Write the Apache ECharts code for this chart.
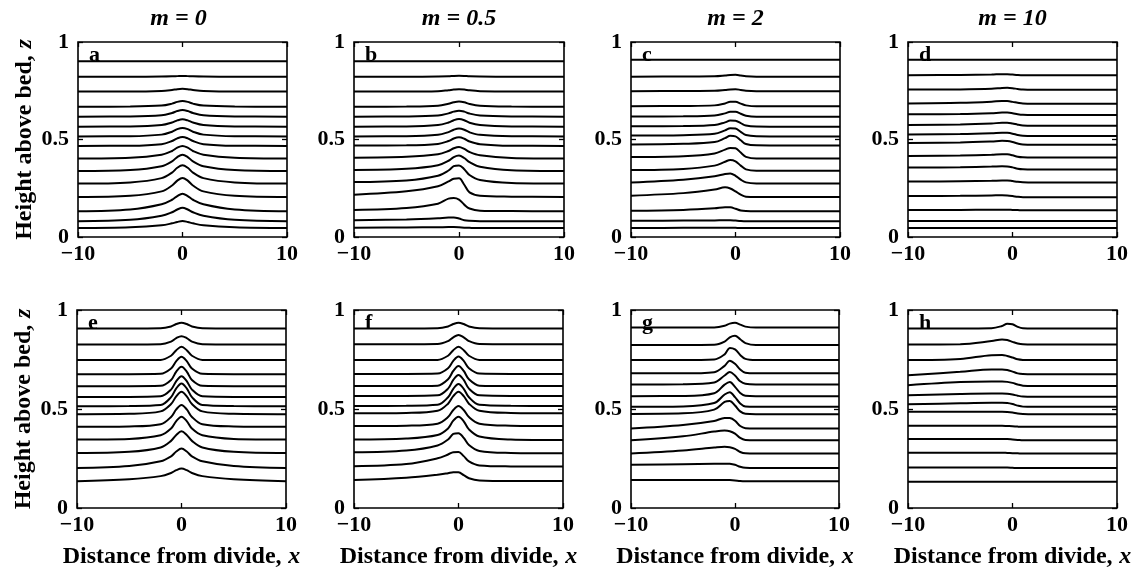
<!DOCTYPE html>
<html>
<head>
<meta charset="utf-8">
<script src="https://cdn.jsdelivr.net/npm/echarts@6/dist/echarts.min.js"></script>
<style>html,body{margin:0;padding:0;background:#fff}#c{width:1136px;height:573px}</style>
</head>
<body>
<div id="c"></div>
<script>
// ---- data ----
const X = [-10, -5, -2, -1, -0.5, 0, 0.5, 1, 2, 5, 10];
const xTickValues = [-10, 0, 10];
const yTickValues = [0, 0.5, 1];
const mLabels = ['m = 0', 'm = 0.5', 'm = 2', 'm = 10'];
const panelLetters = ['a', 'b', 'c', 'd', 'e', 'f', 'g', 'h'];

// top row: isochrone heights z at X, m = 0
const zA = [
 [0.901,0.901,0.901,0.901,0.901,0.901,0.901,0.901,0.901,0.901,0.901],
 [0.822,0.822,0.823,0.824,0.825,0.826,0.825,0.824,0.823,0.822,0.822],
 [0.746,0.746,0.749,0.754,0.758,0.760,0.758,0.754,0.749,0.746,0.746],
 [0.668,0.669,0.674,0.684,0.693,0.697,0.693,0.684,0.674,0.669,0.668],
 [0.617,0.618,0.624,0.636,0.646,0.651,0.646,0.636,0.624,0.618,0.617],
 [0.566,0.567,0.574,0.587,0.598,0.604,0.598,0.587,0.574,0.567,0.566],
 [0.516,0.517,0.525,0.540,0.553,0.559,0.553,0.540,0.525,0.517,0.516],
 [0.467,0.468,0.476,0.492,0.506,0.513,0.506,0.492,0.476,0.468,0.467],
 [0.402,0.406,0.422,0.441,0.458,0.467,0.458,0.441,0.422,0.406,0.402],
 [0.338,0.343,0.363,0.388,0.410,0.422,0.410,0.388,0.363,0.343,0.338],
 [0.274,0.280,0.302,0.330,0.355,0.368,0.355,0.330,0.302,0.280,0.274],
 [0.205,0.211,0.234,0.264,0.289,0.303,0.289,0.264,0.234,0.211,0.205],
 [0.132,0.141,0.168,0.191,0.210,0.222,0.210,0.191,0.168,0.141,0.132],
 [0.081,0.088,0.109,0.127,0.141,0.150,0.141,0.127,0.109,0.088,0.081],
 [0.046,0.050,0.060,0.070,0.077,0.082,0.077,0.070,0.060,0.050,0.046]
];
// m = 0.5
const zB = [
 [0.901,0.901,0.901,0.901,0.901,0.901,0.901,0.901,0.901,0.901,0.901],
 [0.822,0.822,0.823,0.824,0.826,0.827,0.826,0.824,0.823,0.822,0.822],
 [0.746,0.746,0.748,0.753,0.756,0.758,0.756,0.752,0.748,0.746,0.746],
 [0.668,0.669,0.673,0.683,0.691,0.695,0.691,0.682,0.673,0.669,0.668],
 [0.617,0.618,0.623,0.634,0.643,0.648,0.643,0.633,0.623,0.618,0.617],
 [0.566,0.567,0.574,0.587,0.599,0.605,0.599,0.586,0.574,0.567,0.566],
 [0.516,0.517,0.524,0.538,0.550,0.556,0.550,0.537,0.524,0.517,0.516],
 [0.469,0.470,0.477,0.492,0.505,0.511,0.504,0.490,0.476,0.468,0.467],
 [0.407,0.411,0.424,0.441,0.455,0.462,0.452,0.436,0.419,0.405,0.402],
 [0.344,0.350,0.368,0.391,0.410,0.418,0.405,0.384,0.360,0.342,0.338],
 [0.282,0.290,0.314,0.341,0.363,0.367,0.348,0.318,0.292,0.277,0.274],
 [0.217,0.234,0.260,0.285,0.299,0.301,0.268,0.229,0.212,0.207,0.205],
 [0.139,0.149,0.171,0.197,0.200,0.192,0.166,0.146,0.135,0.133,0.132],
 [0.086,0.090,0.096,0.100,0.100,0.095,0.086,0.083,0.081,0.081,0.081],
 [0.048,0.049,0.050,0.051,0.051,0.050,0.048,0.047,0.046,0.046,0.046]
];
// m = 2
const zC = [
 [0.909,0.909,0.909,0.909,0.909,0.909,0.909,0.909,0.909,0.909,0.909],
 [0.822,0.823,0.824,0.828,0.831,0.832,0.828,0.824,0.822,0.822,0.822],
 [0.748,0.749,0.750,0.754,0.757,0.758,0.754,0.750,0.748,0.748,0.748],
 [0.671,0.672,0.675,0.685,0.693,0.693,0.684,0.675,0.670,0.670,0.670],
 [0.618,0.619,0.623,0.634,0.642,0.642,0.632,0.622,0.617,0.617,0.617],
 [0.568,0.569,0.574,0.588,0.597,0.596,0.584,0.572,0.567,0.566,0.566],
 [0.520,0.522,0.529,0.547,0.558,0.556,0.539,0.523,0.517,0.516,0.516],
 [0.475,0.478,0.487,0.507,0.519,0.516,0.496,0.477,0.470,0.469,0.469],
 [0.410,0.414,0.428,0.448,0.457,0.455,0.433,0.411,0.402,0.402,0.402],
 [0.343,0.349,0.366,0.386,0.395,0.388,0.366,0.347,0.340,0.340,0.340],
 [0.280,0.294,0.311,0.323,0.326,0.314,0.294,0.280,0.275,0.275,0.275],
 [0.212,0.225,0.243,0.255,0.249,0.234,0.217,0.207,0.205,0.205,0.205],
 [0.135,0.139,0.147,0.153,0.152,0.145,0.136,0.133,0.132,0.132,0.132],
 [0.083,0.084,0.085,0.086,0.086,0.084,0.082,0.081,0.081,0.081,0.081],
 [0.046,0.047,0.047,0.048,0.048,0.047,0.046,0.046,0.046,0.046,0.046]
];
// m = 10
const zD = [
 [0.909,0.909,0.909,0.909,0.909,0.909,0.909,0.909,0.909,0.909,0.909],
 [0.830,0.831,0.833,0.835,0.835,0.833,0.831,0.830,0.830,0.830,0.830],
 [0.756,0.757,0.760,0.764,0.765,0.763,0.759,0.756,0.755,0.755,0.755],
 [0.685,0.688,0.694,0.698,0.697,0.693,0.688,0.684,0.683,0.683,0.683],
 [0.629,0.631,0.635,0.638,0.638,0.635,0.630,0.627,0.626,0.626,0.626],
 [0.574,0.577,0.582,0.586,0.586,0.582,0.576,0.572,0.571,0.571,0.571],
 [0.526,0.528,0.532,0.535,0.534,0.530,0.523,0.519,0.518,0.518,0.518],
 [0.482,0.485,0.490,0.493,0.492,0.487,0.479,0.474,0.473,0.473,0.473],
 [0.415,0.418,0.422,0.425,0.424,0.419,0.412,0.409,0.408,0.408,0.408],
 [0.356,0.358,0.361,0.363,0.362,0.357,0.350,0.347,0.346,0.346,0.346],
 [0.284,0.286,0.288,0.290,0.290,0.287,0.283,0.281,0.280,0.280,0.280],
 [0.210,0.211,0.213,0.214,0.213,0.210,0.206,0.204,0.204,0.204,0.204],
 [0.139,0.139,0.140,0.140,0.140,0.139,0.138,0.137,0.137,0.137,0.137],
 [0.082,0.082,0.082,0.082,0.082,0.082,0.082,0.082,0.082,0.082,0.082],
 [0.046,0.046,0.046,0.046,0.046,0.046,0.046,0.046,0.046,0.046,0.046]
];
// bottom row, m = 0
const zE = [
 [0.907,0.907,0.908,0.917,0.929,0.936,0.929,0.917,0.908,0.907,0.907],
 [0.826,0.826,0.827,0.840,0.858,0.868,0.858,0.840,0.827,0.826,0.826],
 [0.747,0.747,0.748,0.769,0.797,0.814,0.797,0.769,0.748,0.747,0.747],
 [0.676,0.676,0.678,0.705,0.742,0.764,0.742,0.705,0.678,0.676,0.676],
 [0.615,0.615,0.617,0.647,0.689,0.713,0.689,0.647,0.617,0.615,0.615],
 [0.561,0.561,0.564,0.598,0.641,0.666,0.641,0.598,0.564,0.561,0.561],
 [0.514,0.515,0.520,0.560,0.604,0.629,0.604,0.560,0.520,0.515,0.514],
 [0.474,0.476,0.488,0.525,0.564,0.587,0.564,0.525,0.488,0.476,0.474],
 [0.410,0.412,0.423,0.460,0.498,0.520,0.498,0.460,0.423,0.412,0.410],
 [0.346,0.349,0.367,0.401,0.439,0.461,0.439,0.401,0.367,0.349,0.346],
 [0.278,0.284,0.306,0.339,0.369,0.388,0.369,0.339,0.306,0.284,0.278],
 [0.202,0.212,0.236,0.261,0.285,0.300,0.285,0.261,0.236,0.212,0.202],
 [0.135,0.145,0.161,0.177,0.191,0.199,0.191,0.177,0.161,0.145,0.135]
];
// m = 0.5
const zF = [
 [0.907,0.907,0.908,0.917,0.929,0.936,0.929,0.917,0.908,0.907,0.907],
 [0.827,0.827,0.828,0.843,0.862,0.874,0.862,0.843,0.828,0.827,0.827],
 [0.747,0.747,0.748,0.769,0.797,0.814,0.797,0.769,0.748,0.747,0.747],
 [0.677,0.677,0.679,0.706,0.743,0.765,0.743,0.706,0.679,0.677,0.677],
 [0.616,0.616,0.618,0.650,0.692,0.717,0.692,0.650,0.618,0.616,0.616],
 [0.566,0.566,0.569,0.603,0.647,0.672,0.647,0.603,0.569,0.566,0.566],
 [0.515,0.516,0.521,0.559,0.602,0.626,0.602,0.559,0.521,0.516,0.515],
 [0.478,0.480,0.491,0.527,0.565,0.587,0.565,0.527,0.491,0.480,0.478],
 [0.414,0.416,0.426,0.459,0.495,0.515,0.495,0.459,0.426,0.416,0.414],
 [0.346,0.351,0.369,0.402,0.441,0.461,0.438,0.397,0.361,0.346,0.343],
 [0.281,0.290,0.316,0.346,0.374,0.378,0.354,0.318,0.288,0.278,0.276],
 [0.211,0.222,0.251,0.270,0.282,0.283,0.262,0.235,0.215,0.210,0.209],
 [0.141,0.153,0.168,0.176,0.181,0.180,0.166,0.150,0.139,0.136,0.136]
];
// m = 2
const zG = [
 [0.911,0.911,0.912,0.920,0.931,0.935,0.926,0.916,0.911,0.911,0.911],
 [0.823,0.823,0.824,0.840,0.862,0.870,0.852,0.833,0.823,0.823,0.823],
 [0.747,0.747,0.750,0.776,0.808,0.801,0.773,0.753,0.747,0.747,0.747],
 [0.680,0.680,0.686,0.718,0.744,0.728,0.699,0.683,0.680,0.680,0.680],
 [0.624,0.625,0.634,0.669,0.687,0.669,0.640,0.627,0.624,0.624,0.624],
 [0.565,0.566,0.580,0.623,0.636,0.612,0.581,0.567,0.565,0.565,0.565],
 [0.511,0.513,0.530,0.573,0.585,0.560,0.528,0.513,0.511,0.511,0.511],
 [0.475,0.478,0.497,0.536,0.541,0.518,0.488,0.476,0.474,0.474,0.474],
 [0.401,0.419,0.439,0.455,0.454,0.441,0.414,0.403,0.401,0.401,0.401],
 [0.342,0.362,0.386,0.391,0.388,0.376,0.354,0.344,0.342,0.342,0.342],
 [0.275,0.290,0.305,0.309,0.307,0.299,0.283,0.276,0.275,0.275,0.275],
 [0.219,0.221,0.223,0.224,0.223,0.218,0.208,0.203,0.202,0.202,0.202],
 [0.141,0.141,0.142,0.142,0.141,0.139,0.136,0.135,0.135,0.135,0.135]
];
// m = 10
const zH = [
 [0.907,0.907,0.908,0.919,0.931,0.928,0.915,0.908,0.907,0.907,0.907],
 [0.826,0.827,0.843,0.851,0.848,0.839,0.831,0.827,0.826,0.826,0.826],
 [0.747,0.753,0.772,0.773,0.768,0.760,0.751,0.748,0.747,0.747,0.747],
 [0.670,0.688,0.700,0.700,0.697,0.689,0.680,0.677,0.676,0.676,0.676],
 [0.620,0.636,0.639,0.639,0.637,0.632,0.624,0.618,0.616,0.616,0.616],
 [0.570,0.576,0.578,0.578,0.577,0.573,0.567,0.563,0.562,0.562,0.562],
 [0.524,0.529,0.531,0.531,0.530,0.525,0.517,0.512,0.511,0.511,0.511],
 [0.486,0.486,0.486,0.486,0.485,0.482,0.477,0.475,0.474,0.474,0.474],
 [0.415,0.415,0.415,0.415,0.414,0.413,0.411,0.410,0.410,0.410,0.410],
 [0.349,0.349,0.349,0.349,0.348,0.346,0.344,0.342,0.342,0.342,0.342],
 [0.279,0.279,0.279,0.279,0.278,0.277,0.276,0.275,0.275,0.275,0.275],
 [0.204,0.204,0.204,0.204,0.204,0.203,0.202,0.202,0.202,0.202,0.202],
 [0.132,0.132,0.132,0.132,0.132,0.132,0.132,0.132,0.132,0.132,0.132]
];

// ---- layout ----
const FONT = '"Liberation Serif", "DejaVu Serif", serif';
const FS = 22, NFS = 24;
const panelData = [zA, zB, zC, zD, zE, zF, zG, zH];
const boxes = [
  {left: 78, top: 42, width: 209, height: 195},
  {left: 354, top: 42, width: 210, height: 195},
  {left: 631, top: 42, width: 209, height: 195},
  {left: 908, top: 42, width: 209, height: 195},
  {left: 77, top: 310, width: 209, height: 198},
  {left: 354, top: 310, width: 209, height: 198},
  {left: 631, top: 310, width: 208, height: 198},
  {left: 908, top: 310, width: 209, height: 198}
];

const grid = [], xAxis = [], yAxis = [], series = [], title = [];
const tickStyle = {inside: true, length: 5, lineStyle: {color: '#000', width: 1.3}};
const labelStyle = {color: '#000', fontFamily: FONT, fontWeight: 'bold', fontSize: FS};
const fmtX = v => (v < 0 ? '\u2212' + Math.abs(v) : String(v));
const nameRich = {
  n: {fontFamily: FONT, fontWeight: 'bold', fontSize: NFS, color: '#000'},
  i: {fontFamily: FONT, fontWeight: 'bold', fontStyle: 'italic', fontSize: NFS, color: '#000'}
};

boxes.forEach((b, p) => {
  grid.push(Object.assign({show: true, borderColor: '#000', borderWidth: 1.6, backgroundColor: 'transparent', containLabel: false}, b));
  const bottomRow = p >= 4, leftCol = p % 4 === 0;
  xAxis.push({
    type: 'value', gridIndex: p, min: -10, max: 10, interval: 10, position: 'bottom',
    axisLine: {show: false, onZero: false}, axisTick: tickStyle, splitLine: {show: false},
    axisLabel: Object.assign({margin: 6, formatter: fmtX}, labelStyle),
    name: bottomRow ? '{n|Distance from divide,}  {i|x}' : '',
    nameLocation: 'middle', nameGap: 37,
    nameTextStyle: {rich: nameRich}
  });
  yAxis.push({
    type: 'value', gridIndex: p, min: 0, max: 1, interval: 0.5, position: 'left',
    axisLine: {show: false, onZero: false}, axisTick: tickStyle, splitLine: {show: false},
    axisLabel: Object.assign({margin: 9, formatter: v => String(v)}, labelStyle),
    name: leftCol ? '{n|Height above bed,}  {i|z}' : '',
    nameLocation: 'middle', nameGap: 41, nameRotate: 90,
    nameTextStyle: {rich: nameRich}
  });
  panelData[p].forEach((line) => {
    series.push({
      type: 'line', xAxisIndex: p, yAxisIndex: p,
      data: X.map((x, i) => [x, line[i]]),
      smooth: 0.35, showSymbol: false, symbol: 'none', silent: true,
      lineStyle: {color: '#000', width: 2}
    });
  });
  title.push({
    text: panelLetters[p], left: b.left + 11, top: b.top + 2, padding: 0,
    textStyle: {fontFamily: FONT, fontWeight: 'bold', fontSize: 22, color: '#000'}
  });
});
// top / right axes for the inner ticks on the other sides
boxes.forEach((b, p) => {
  xAxis.push({type: 'value', gridIndex: p, min: -10, max: 10, interval: 10, position: 'top',
    axisLine: {show: false, onZero: false}, axisTick: tickStyle, axisLabel: {show: false}, splitLine: {show: false}});
  yAxis.push({type: 'value', gridIndex: p, min: 0, max: 1, interval: 0.5, position: 'right',
    axisLine: {show: false, onZero: false}, axisTick: tickStyle, axisLabel: {show: false}, splitLine: {show: false}});
});
mLabels.forEach((t, c) => {
  const b = boxes[c];
  title.push({
    text: t, left: b.left + b.width / 2 - (c === 0 ? 4 : 0), top: 7, textAlign: 'center', padding: 0,
    textStyle: {fontFamily: FONT, fontWeight: 'bold', fontStyle: 'italic', fontSize: NFS, color: '#000'}
  });
});

const chart = echarts.init(document.getElementById('c'), null, {renderer: 'canvas'});
chart.setOption({animation: false, backgroundColor: '#fff', title, grid, xAxis, yAxis, series});
</script>
</body>
</html>
